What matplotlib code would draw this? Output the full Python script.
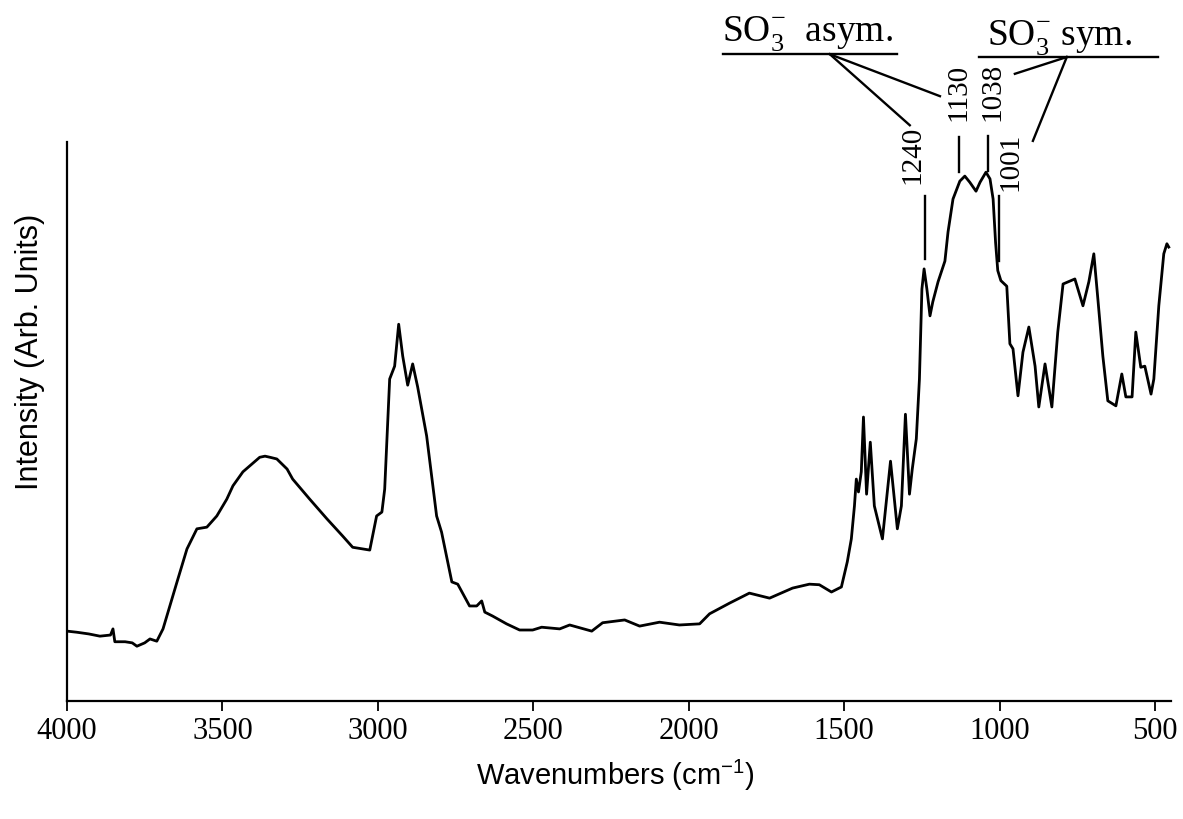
import numpy as np
import matplotlib
matplotlib.use("Agg")
import matplotlib.pyplot as plt

# FTIR spectrum, read point by point (cm-1, arbitrary intensity)
wavenumber = [4000, 3968, 3930, 3894, 3860, 3852, 3846, 3813, 3790, 3775,
              3750, 3733, 3711, 3691, 3646, 3614, 3582, 3550, 3518, 3486,
              3466, 3434, 3405, 3380, 3363, 3347, 3325, 3292, 3274, 3219,
              3164, 3113, 3081, 3026, 3004, 2987, 2978, 2962, 2946, 2933,
              2920, 2904, 2888, 2872, 2843, 2811, 2795, 2762, 2743, 2705,
              2682, 2666, 2656, 2631, 2586, 2544, 2502, 2473, 2415, 2383,
              2312, 2277, 2206, 2158, 2094, 2030, 1965, 1933, 1869, 1805,
              1740, 1666, 1612, 1580, 1541, 1509, 1490, 1477, 1467, 1461,
              1454, 1445, 1438, 1428, 1416, 1403, 1377, 1351, 1329, 1316,
              1303, 1290, 1281, 1268, 1258, 1250, 1243, 1234, 1224, 1215,
              1198, 1176, 1166, 1150, 1128, 1112, 1096, 1076, 1063, 1044,
              1031, 1021, 1013, 1006, 996, 977, 967, 957, 941, 925,
              906, 886, 874, 854, 832, 813, 796, 758, 732, 713,
              697, 684, 668, 652, 626, 607, 594, 574, 562, 546,
              533, 513, 504, 488, 472, 462, 456]
intensity = [0.125, 0.123, 0.120, 0.116, 0.118, 0.129, 0.106, 0.106, 0.104, 0.098,
             0.104, 0.111, 0.107, 0.129, 0.213, 0.272, 0.308, 0.311, 0.331, 0.361,
             0.385, 0.410, 0.424, 0.436, 0.438, 0.436, 0.433, 0.415, 0.397, 0.361,
             0.326, 0.295, 0.275, 0.270, 0.331, 0.338, 0.379, 0.576, 0.599, 0.674,
             0.617, 0.565, 0.603, 0.562, 0.474, 0.331, 0.302, 0.213, 0.209, 0.170,
             0.170, 0.179, 0.159, 0.152, 0.138, 0.127, 0.127, 0.132, 0.129, 0.136,
             0.125, 0.140, 0.145, 0.134, 0.141, 0.136, 0.138, 0.156, 0.175, 0.193,
             0.184, 0.202, 0.209, 0.208, 0.195, 0.204, 0.249, 0.290, 0.349, 0.397,
             0.374, 0.410, 0.508, 0.370, 0.463, 0.349, 0.290, 0.429, 0.308, 0.349,
             0.513, 0.370, 0.415, 0.469, 0.576, 0.737, 0.773, 0.737, 0.689, 0.714,
             0.750, 0.787, 0.839, 0.898, 0.930, 0.939, 0.928, 0.912, 0.928, 0.946,
             0.934, 0.898, 0.820, 0.770, 0.752, 0.742, 0.639, 0.630, 0.546, 0.624,
             0.669, 0.599, 0.526, 0.603, 0.526, 0.660, 0.746, 0.755, 0.707, 0.750,
             0.800, 0.719, 0.617, 0.537, 0.528, 0.585, 0.544, 0.544, 0.660, 0.597,
             0.599, 0.549, 0.576, 0.707, 0.800, 0.818, 0.812]

# assigned SO3- bands
asym_bands = ["1240", "1130"]
sym_bands = ["1038", "1001"]
xticks = [4000, 3500, 3000, 2500, 2000, 1500, 1000, 500]

plt.rcParams['font.family'] = 'Liberation Serif'
plt.rcParams['mathtext.fontset'] = 'custom'
plt.rcParams['mathtext.rm'] = 'Liberation Serif'
plt.rcParams['mathtext.sf'] = 'Liberation Sans'

fig = plt.figure(figsize=(11.83, 8.2), dpi=100)
ax = fig.add_axes([0.0566, 0.1439, 0.9332, 0.6817])

ax.plot(wavenumber, intensity, color='black', linewidth=2.0, solid_joinstyle='round')

ax.set_xlim(4000, 449)
ax.set_ylim(0, 1)
ax.set_xticks(xticks)
ax.set_yticks([])
ax.tick_params(axis='x', direction='out', length=7, width=1.3, labelsize=22, pad=4)
for s in ['top', 'right']:
    ax.spines[s].set_visible(False)
for s in ['left', 'bottom']:
    ax.spines[s].set_linewidth(1.6)

fig.text(30 / 1183, 1 - 352 / 820, 'Intensity (Arb. Units)', family='Liberation Sans',
         fontsize=22, rotation=90, ha='center', va='center')
fig.text(615 / 1183, 1 - 775 / 820, r'Wavenumbers (cm$^{\mathsf{-1}}$)',
         family='Liberation Sans', fontsize=21, ha='center', va='center')

# band markers and labels
line_kw = dict(color='black', linewidth=1.7, clip_on=False)
marks = {"1240": (0.791, 0.903, 1282, 0.979),
         "1130": (0.946, 1.009, 1134, 1.091),
         "1038": (0.948, 1.011, 1022, 1.091),
         "1001": (0.787, 0.903, 964, 0.966)}
for b in asym_bands + sym_bands:
    y0, y1, tx, ty = marks[b]
    ax.plot([float(b), float(b)], [y0, y1], **line_kw)
    ax.text(tx, ty, b, rotation=90, fontsize=21, ha='center', va='center')

# group headers with leader lines
ax.plot([1890, 1330], [1.157, 1.157], **line_kw)
ax.plot([1546, 1289], [1.157, 1.030], **line_kw)
ax.plot([1546, 1192], [1.157, 1.082], **line_kw)
ax.text(1893, 1.181, r'SO$_3^{-}$  asym.', fontsize=27, ha='left', va='baseline')

ax.plot([1067, 491], [1.152, 1.152], **line_kw)
ax.plot([784, 951], [1.152, 1.122], **line_kw)
ax.plot([784, 893], [1.152, 1.002], **line_kw)
ax.text(1041, 1.175, r'SO$_3^{-}$ sym.', fontsize=27, ha='left', va='baseline')

fig.savefig('out.png', dpi=100)
